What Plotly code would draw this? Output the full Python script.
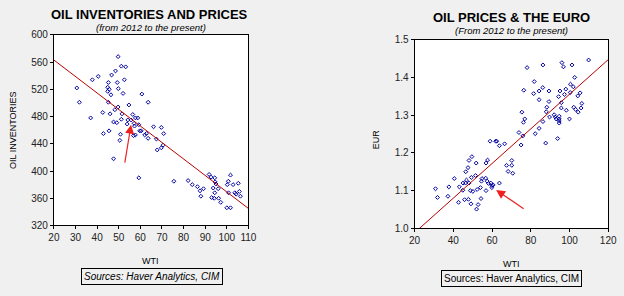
import plotly.graph_objects as go

W, H = 624, 296

# ---- Left chart: WTI vs oil inventories ----
inv_wti = [49.7, 51.2, 53.2, 37.8, 40.5, 46.7, 48.5, 52.6, 49.3, 45.2, 30.6, 44.9, 45.6, 44.9,
           49.8, 52.0, 46.4, 60.7, 31.8, 45.2, 54.7, 63.6, 49.7, 48.2, 46.0, 42.6, 51.5, 56.5,
           37.0, 51.2, 54.2, 55.7, 57.7, 58.8, 47.6, 49.1, 53.9, 57.1, 59.3, 57.3, 66.1, 69.7,
           59.7, 60.4, 45.5, 42.9, 50.8, 56.8, 57.7, 62.0, 62.8, 70.8, 63.6, 50.5, 67.4, 70.5,
           69.7, 67.8, 47.6, 59.3, 75.5, 82.1, 84.0, 86.4, 87.6, 88.0, 89.2, 91.8, 92.7, 94.4,
           94.6, 93.7, 94.4, 95.0, 93.0, 94.2, 96.2, 97.2, 96.0, 100.0, 101.7, 100.2, 100.7,
           101.7, 102.9, 104.3, 105.3, 105.8, 106.3, 103.7, 100.8]
inv_val = [568, 554, 553, 534, 539, 541, 547, 534, 530, 530, 522, 523, 520, 517,
           521, 514, 512, 513, 501, 501, 497, 501, 494, 490, 484, 486, 484, 483,
           478, 476, 475, 475, 478, 478, 472, 471, 469, 470, 468, 466, 465, 464,
           459, 459, 459, 455, 454, 452, 453, 453, 455, 455, 448, 445, 447, 438,
           434, 431, 418, 390, 385, 386, 380, 377, 371, 363, 374, 395, 391, 390,
           384, 375, 368, 381, 361, 360, 360, 354, 374, 346, 346, 380, 385,
           394, 380, 366, 382, 370, 363, 368, 368]
inv_trend_x = [20, 110]
inv_trend_y = [563, 345]
inv_arrow_tail = [52.7, 410]
inv_arrow_head = [55.7, 468]

# ---- Right chart: WTI vs EUR ----
eur_wti = [109.9, 96.1, 96.9, 101.3, 86.3, 78.1, 102.7, 81.8, 100.5, 102.0, 86.2, 84.3, 76.4,
           89.4, 95.1, 98.1, 100.4, 105.5, 81.5, 94.4, 97.4, 104.3, 84.3, 89.4, 95.8, 106.4,
           88.3, 95.8, 98.4, 102.2, 103.2, 104.5, 106.0, 75.4, 88.0, 92.1, 92.7, 93.1, 94.7,
           94.7, 94.7, 94.7, 100.0, 89.7, 76.9, 76.2, 86.3, 84.3, 73.9, 82.3, 75.9, 93.9,
           59.0, 61.9, 62.4, 63.8, 66.5, 75.0, 87.7,
           49.6, 48.1, 51.8, 56.9, 57.7, 47.6, 46.4, 70.2, 67.5, 70.2, 68.3, 70.7, 40.5,
           46.8, 49.3, 51.5, 54.8, 54.5, 56.7, 57.5, 58.2, 59.4, 60.0, 45.0, 46.3, 48.1,
           43.1, 37.7, 30.8, 31.8, 37.2, 44.9, 48.8, 50.1, 52.3, 54.0, 56.9, 59.9, 60.6,
           63.8, 47.8, 45.8, 42.7, 49.1, 52.8, 52.0, 54.3]
eur_val = [1.446, 1.439, 1.428, 1.433, 1.433, 1.426, 1.400, 1.389, 1.382, 1.375, 1.373, 1.364, 1.366,
           1.364, 1.364, 1.369, 1.360, 1.359, 1.357, 1.349, 1.355, 1.351, 1.341, 1.336, 1.333, 1.331,
           1.321, 1.319, 1.313, 1.321, 1.315, 1.308, 1.319, 1.308, 1.309, 1.301, 1.295, 1.290, 1.297,
           1.290, 1.285, 1.279, 1.290, 1.295, 1.290, 1.281, 1.283, 1.265, 1.254, 1.251, 1.245, 1.238,
           1.231, 1.231, 1.231, 1.219, 1.224, 1.221, 1.226,
           1.190, 1.180, 1.173, 1.173, 1.181, 1.161, 1.150, 1.180, 1.167, 1.167, 1.151, 1.146, 1.132,
           1.128, 1.135, 1.140, 1.132, 1.125, 1.133, 1.125, 1.119, 1.120, 1.113, 1.120, 1.120, 1.120,
           1.110, 1.110, 1.105, 1.082, 1.085, 1.101, 1.100, 1.098, 1.103, 1.108, 1.100, 1.108, 1.115,
           1.120, 1.077, 1.076, 1.069, 1.065, 1.063, 1.051, 1.079]
eur_trend_x = [20, 120]
eur_trend_y = [0.9885, 1.447]
eur_arrow_tail = [77.1, 1.049]
eur_arrow_head = [62.1, 1.102]

MARK = "#0000a0"
LINE = "#b80000"
BG = "#f0f0f0"

def px_x(p):
    return p / W

def px_y(p):
    return 1 - p / H

fig = go.Figure()

mk = dict(symbol="diamond-open", size=3, color=MARK, line=dict(width=1, color=MARK))
fig.add_trace(go.Scatter(x=inv_wti, y=inv_val, mode="markers", xaxis="x", yaxis="y", marker=mk))
fig.add_trace(go.Scatter(x=inv_trend_x, y=inv_trend_y, mode="lines", xaxis="x", yaxis="y",
                         line=dict(color=LINE, width=1)))
fig.add_trace(go.Scatter(x=eur_wti, y=eur_val, mode="markers", xaxis="x2", yaxis="y2", marker=mk))
fig.add_trace(go.Scatter(x=eur_trend_x, y=eur_trend_y, mode="lines", xaxis="x2", yaxis="y2",
                         line=dict(color=LINE, width=1)))

axis_common = dict(showline=True, mirror=True, linecolor="black", linewidth=1, showgrid=False,
                   zeroline=False, ticks="outside", ticklen=3, tickcolor="black",
                   tickfont=dict(family="Arial, Liberation Sans", size=10, color="#222"))

fig.update_layout(
    width=W, height=H, margin=dict(l=0, r=0, t=0, b=0),
    paper_bgcolor=BG, plot_bgcolor="white", showlegend=False,
    xaxis=dict(domain=[px_x(49), px_x(248)], range=[20, 110], dtick=10, anchor="y", **axis_common),
    yaxis=dict(domain=[px_y(229), px_y(31)], range=[320, 600], dtick=40, anchor="x", **axis_common),
    xaxis2=dict(domain=[px_x(418), px_x(616)], range=[20, 120], dtick=20, anchor="y2", **axis_common),
    yaxis2=dict(domain=[px_y(232), px_y(36)], range=[1.0, 1.5], dtick=0.1, tickformat=".1f",
                anchor="x2", **axis_common),
)

F = "Arial, Liberation Sans"
ann = []
def txt(x, y, s, size, bold=False, italic=False, angle=0, box=False):
    t = s
    if italic:
        t = "<i>" + t + "</i>"
    if bold:
        t = "<b>" + t + "</b>"
    d = dict(x=px_x(x), y=px_y(y), xref="paper", yref="paper", text=t, showarrow=False,
             font=dict(family=F, size=size, color="black"), xanchor="center", yanchor="middle",
             textangle=angle)
    if box:
        d.update(bordercolor="black", borderwidth=1, borderpad=2, bgcolor=BG)
    ann.append(d)

txt(147, 10, "OIL INVENTORIES AND PRICES", 13, bold=True)
txt(148, 23, "(from 2012 to the present)", 9.5, italic=True)
txt(7, 130, "OIL INVENTORIES", 9, angle=-90)
txt(148, 266, "WTI", 9)
txt(149, 282, "Sources: Haver Analytics, CIM", 10, italic=True, box=True)

txt(517, 13, "OIL PRICES &amp; THE EURO", 13, bold=True)
txt(517, 27, "(From 2012 to the present)", 9.5, italic=True)
txt(378, 140, "EUR", 9, angle=-90)
txt(517, 269, "WTI", 9)
txt(517, 284, "Sources: Haver Analytics, CIM", 10, box=True)

ann.append(dict(x=inv_arrow_head[0], y=inv_arrow_head[1], ax=inv_arrow_tail[0], ay=inv_arrow_tail[1],
                xref="x", yref="y", axref="x", ayref="y", showarrow=True, arrowhead=2,
                arrowsize=1.5, arrowwidth=1.2, arrowcolor="#ee2020", text=""))
ann.append(dict(x=eur_arrow_head[0], y=eur_arrow_head[1], ax=eur_arrow_tail[0], ay=eur_arrow_tail[1],
                xref="x2", yref="y2", axref="x2", ayref="y2", showarrow=True, arrowhead=2,
                arrowsize=1.5, arrowwidth=1.2, arrowcolor="#ee2020", text=""))

fig.update_layout(annotations=ann)
fig.write_html("out.html")
